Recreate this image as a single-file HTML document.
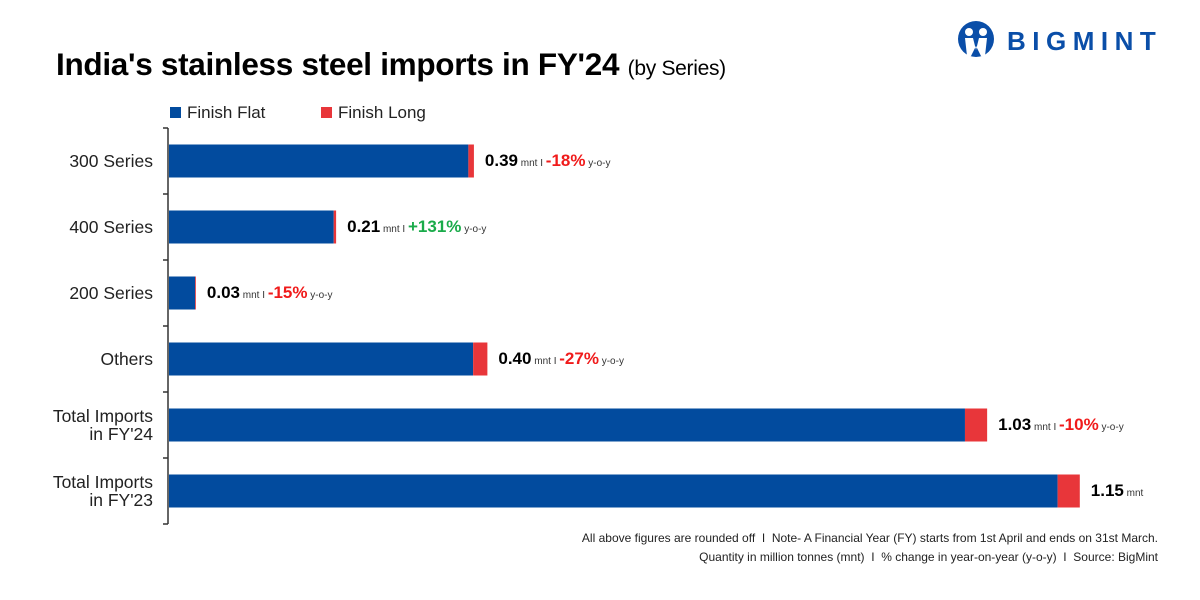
<!DOCTYPE html>
<html><head><meta charset="utf-8"><style>
body{margin:0;width:1200px;height:600px;background:#fff;font-family:"Liberation Sans",sans-serif;overflow:hidden;position:relative}
</style></head><body>
<div style="position:absolute;left:56px;top:46px;font-size:31.5px;font-weight:bold;color:#000;letter-spacing:-0.3px;white-space:nowrap">India's stainless steel imports in FY'24 <span style="font-size:21px;font-weight:normal">(by Series)</span></div>
<div style="position:absolute;left:956px;top:20px;height:40px">
<svg width="40" height="40" viewBox="0 0 40 40" style="position:absolute;left:0;top:0"><circle cx="20" cy="19" r="18" fill="#0a4ea8"/><circle cx="13" cy="12" r="4" fill="#fff"/><circle cx="27" cy="12" r="4" fill="#fff"/><path d="M9 18 L17 18 L20 30 L23 18 L31 18 L29 36 L25 36 L20 26 L15 36 L11 36 Z" fill="#fff"/></svg>
<div style="position:absolute;left:51px;top:6px;font-size:26px;font-weight:bold;color:#0a4ea8;letter-spacing:6.5px;white-space:nowrap">BIGMINT</div>
</div>
<div style="position:absolute;left:170px;top:103px;font-size:17px;color:#222">
<span style="position:absolute;left:0;white-space:nowrap"><span style="display:inline-block;width:11px;height:11px;background:#024b9e;margin-right:6px"></span>Finish Flat</span>
<span style="position:absolute;left:151px;white-space:nowrap"><span style="display:inline-block;width:11px;height:11px;background:#e8363a;margin-right:6px"></span>Finish Long</span>
</div>
<svg id="chart" width="1200" height="600" style="position:absolute;left:0;top:0"></svg>
<div style="position:absolute;right:42px;top:531px;font-size:12px;color:#222;white-space:nowrap">All above figures are rounded off &nbsp;I&nbsp; Note- A Financial Year (FY) starts from 1st April and ends on 31st March.</div>
<div style="position:absolute;right:42px;top:550px;font-size:12px;color:#222;white-space:nowrap">Quantity in million tonnes (mnt) &nbsp;I&nbsp; % change in year-on-year (y-o-y) &nbsp;I&nbsp; Source: BigMint</div>
<script>
const categories=["300 Series","400 Series","200 Series","Others","Total Imports|in FY'24","Total Imports|in FY'23"];
const flatValues=[0.378,0.208,0.033,0.384,1.005,1.122];
const longValues=[0.007,0.003,0.001,0.018,0.028,0.028];
const totalLabels=["0.39","0.21","0.03","0.40","1.03","1.15"];
const yoyLabels=["-18%","+131%","-15%","-27%","-10%",""];
const NS="http://www.w3.org/2000/svg";
const svg=document.getElementById('chart');
const x0=169,scale=792,top0=128,pitch=66,barH=33;
const xs=v=>x0+v*scale;
const yc=i=>top0+pitch*i+pitch/2;
function mk(t,a){const e=document.createElementNS(NS,t);for(const k in a)e.setAttribute(k,a[k]);svg.appendChild(e);return e;}
const ax=mk('line',{x1:168,x2:168,y1:top0,y2:top0+pitch*categories.length,stroke:'#333','stroke-width':1.5});


for(let i=0;i<=categories.length;i++){const t=mk('line',{x1:163,x2:168,y1:top0+pitch*i,y2:top0+pitch*i,stroke:'#333','stroke-width':1.5});

}
categories.forEach((c,i)=>{
 const parts=c.split('|');
 const tx=mk('text',{x:153,y:yc(i)+6-(parts.length-1)*9,'text-anchor':'end','font-size':17.5,fill:'#222'});
 
 
 parts.forEach((p,j)=>{const s=document.createElementNS(NS,'tspan');s.setAttribute('x',153);s.setAttribute('dy',j?18:0);s.textContent=p;tx.appendChild(s);});
 const y=yc(i)-barH/2;
 const b1=mk('rect',{x:x0,y:y,width:xs(flatValues[i])-x0,height:barH,fill:'#024b9e'});
 
 
 const b2=mk('rect',{x:xs(flatValues[i]),y:y,width:longValues[i]*scale,height:barH,fill:'#e8363a'});
 
 
 const lx=xs(flatValues[i]+longValues[i])+11;
 const lb=mk('text',{x:lx,y:yc(i)+5,'font-size':17,fill:'#000'});
 
 
 let h='<tspan font-weight="bold">'+totalLabels[i]+'</tspan><tspan font-size="10" fill="#333"> mnt</tspan>';
 if(yoyLabels[i]){const col=yoyLabels[i][0]=='+'?'#1aab4a':'#f01b1b';
  h+='<tspan font-size="10" fill="#333"> I </tspan><tspan font-weight="bold" fill="'+col+'">'+yoyLabels[i]+'</tspan><tspan font-size="10" fill="#333"> y-o-y</tspan>';}
 lb.innerHTML=h;
});
</script>
</body></html>
